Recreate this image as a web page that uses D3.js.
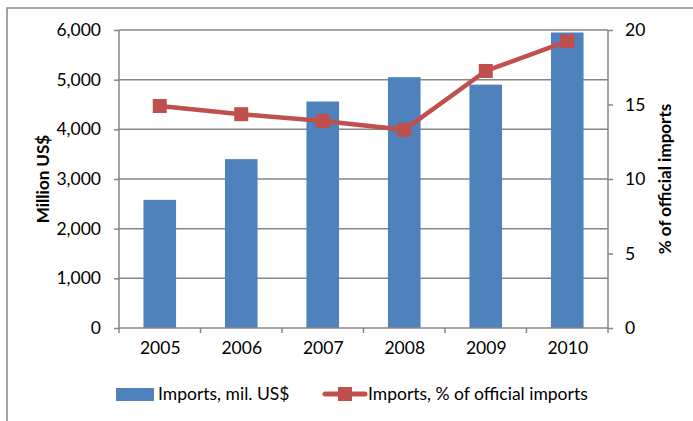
<!DOCTYPE html>
<html><head><meta charset="utf-8">
<script src="https://cdn.jsdelivr.net/npm/d3@7"></script>
<style>body{margin:0;background:#fff}svg{display:block}text{font-family:Lato,"Open Sans",sans-serif;fill:#000}</style>
</head><body><svg id="c" width="693" height="421"></svg>
<script>
const years = ["2005","2006","2007","2008","2009","2010"];
const importsMil = [2580, 3400, 4560, 5050, 4900, 5950];
const importsPct = [14.9, 14.35, 13.9, 13.3, 17.25, 19.25];
const leftTicks = [0,1000,2000,3000,4000,5000,6000];
const rightTicks = [0,5,10,15,20];

const svg = d3.select("#c");
const L = 119, R = 608, T = 30, B = 328;
const x = d3.scaleBand().domain(years).range([L,R]).paddingInner(0.6).paddingOuter(0.3);
const xc = d3.scalePoint().domain(years).range([L,R]).padding(0.5);
const yL = d3.scaleLinear().domain([0,6000]).range([B,T]);
const yR = d3.scaleLinear().domain([0,20]).range([B,T]);
const grey = "#868686";
const fs = "17.5px";

// frame
svg.append("rect").attr("x",7).attr("y",8).attr("width",720).attr("height",450)
  .attr("fill","none").attr("stroke",grey).attr("stroke-width",1.5);

// gridlines
svg.append("g").selectAll("line").data(leftTicks.filter(d=>d>0)).join("line")
  .attr("x1",L).attr("x2",R).attr("y1",d=>yL(d)).attr("y2",d=>yL(d))
  .attr("stroke",grey).attr("stroke-width",1.5);

// bars
svg.append("g").selectAll("rect").data(years).join("rect")
  .attr("x",d=>x(d)).attr("width",x.bandwidth())
  .attr("y",(d,i)=>yL(importsMil[i])).attr("height",(d,i)=>B-yL(importsMil[i]))
  .attr("fill","#4F81BD");

// left axis
const gl = svg.append("g").attr("transform",`translate(${L},0)`)
  .call(d3.axisLeft(yL).tickValues(leftTicks).tickSize(5).tickPadding(13).tickFormat(d3.format(",")));
gl.selectAll("path,line").attr("stroke",grey).attr("stroke-width",1.5);
gl.select(".domain").attr("d",`M0,${T}V${B}`);
gl.selectAll("text").style("font-size",fs).style("font-family","Lato");

// right axis
const gr = svg.append("g").attr("transform",`translate(${R},0)`)
  .call(d3.axisRight(yR).tickValues(rightTicks).tickSize(5).tickPadding(12));
gr.selectAll("path,line").attr("stroke",grey).attr("stroke-width",1.5);
gr.select(".domain").attr("d",`M0,${T}V${B}`);
gr.selectAll("text").style("font-size",fs).style("font-family","Lato");

// bottom axis
const gb = svg.append("g").attr("transform",`translate(0,${B})`)
  .call(d3.axisBottom(xc).tickSize(0).tickPadding(14));
gb.select(".domain").attr("stroke",grey).attr("stroke-width",1.5).attr("d",`M${L},0H${R}`);
gb.selectAll("text").style("font-size",fs).style("font-family","Lato");
// category tick marks
svg.append("g").selectAll("line").data(years.concat(["end"])).join("line")
  .attr("x1",(d,i)=>L+i*(R-L)/years.length).attr("x2",(d,i)=>L+i*(R-L)/years.length)
  .attr("y1",B).attr("y2",B+5).attr("stroke",grey).attr("stroke-width",1.5);

// line
const line = d3.line().x((d,i)=>xc(years[i])).y(d=>yR(d));
svg.append("path").datum(importsPct).attr("d",line).attr("fill","none")
  .attr("stroke","#C0504D").attr("stroke-width",4.5).attr("stroke-linejoin","round");
svg.append("g").selectAll("rect").data(importsPct).join("rect")
  .attr("x",(d,i)=>xc(years[i])-7).attr("y",d=>yR(d)-7).attr("width",14).attr("height",14)
  .attr("fill","#C0504D");

// axis titles
svg.append("text").attr("transform",`translate(49,179) rotate(-90)`).attr("text-anchor","middle")
  .style("font-size","17px").style("font-weight","bold").text("Million US$");
svg.append("text").attr("transform",`translate(671,179) rotate(-90)`).attr("text-anchor","middle")
  .style("font-size","17px").style("font-weight","bold").text("% of official imports");

// legend
const lg = svg.append("g");
lg.append("rect").attr("x",116).attr("y",388).attr("width",38).attr("height",13).attr("fill","#4F81BD");
lg.append("text").attr("x",158).attr("y",400).style("font-size",fs).text("Imports, mil. US$");
lg.append("line").attr("x1",325).attr("x2",365).attr("y1",394).attr("y2",394)
  .attr("stroke","#C0504D").attr("stroke-width",5).attr("stroke-linecap","round");
lg.append("rect").attr("x",338).attr("y",387).attr("width",14).attr("height",14).attr("fill","#C0504D");
lg.append("text").attr("x",368).attr("y",400).style("font-size",fs).text("Imports, % of official imports");
</script></body></html>
